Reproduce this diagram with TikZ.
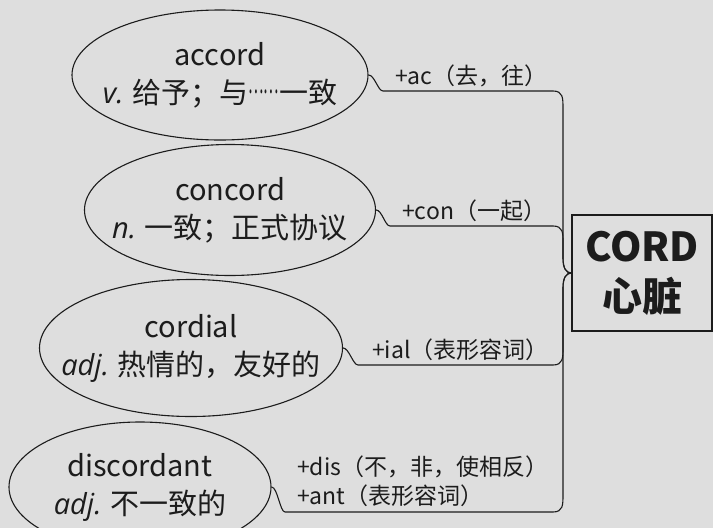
\documentclass[tikz,border=0pt]{standalone}
\usepackage{fontspec}
\setmainfont{Noto Sans CJK SC}
\newfontfamily\posfont{Open Sans}
\usetikzlibrary{shapes.geometric}
\definecolor{paper}{RGB}{222,222,222}
\definecolor{ink}{RGB}{28,28,28}
\newcommand{\pos}[1]{{\posfont\itshape #1}}
% the Chinese ellipsis, narrow and on the middle line
\newcommand{\zhdots}{\raisebox{0.32em}{\scalebox{0.5}[1]{……}}}

\begin{document}
\begin{tikzpicture}[x=1pt, y=-1pt,
    word/.style={draw=ink, ellipse, line width=1.1pt, inner sep=0pt},
    wordtext/.style={align=center, text=ink, font=\fontsize{29}{38}\selectfont},
    affix/.style={anchor=base west, inner sep=0pt, text=ink, font=\fontsize{23}{29}\selectfont},
    link/.style={draw=ink, line width=1.1pt}]

    % Page: grey paper, the lowest ellipse runs off its bottom edge
    \fill[paper] (0,0) rectangle (713,528);
    \clip (0,0) rectangle (713,528);

    % The root word
    \node[draw=ink, line width=1.3pt, minimum width=140pt, minimum height=116pt,
          align=center, text=ink, font=\fontsize{40}{50}\selectfont\bfseries]
        (cord) at (642,273) {CORD\\心脏};

    % The derived words
    \node[word, minimum width=296pt, minimum height=130pt] (acc) at (220,75) {};
    \node[wordtext] (acc-t) at (acc) {accord\\\pos{v.} 给予；与\zhdots 一致};

    \node[word, minimum width=291pt, minimum height=131pt] (con) at (230,210) {};
    \node[wordtext] (con-t) at (con) {concord\\\pos{n.} 一致；正式协议};

    \node[word, minimum width=303pt, minimum height=137pt] (cdl) at (191,348) {};
    \node[wordtext] (cdl-t) at (cdl) {cordial\\\pos{adj.} 热情的，友好的};

    \node[word, minimum width=262pt, minimum height=130pt] (dis) at (140,487) {};
    \node[wordtext] (dis-t) at (dis) {discordant\\\pos{adj.} 不一致的};

    % Branches: a short bend off the ellipse, a rule under the affix,
    % then down (or up) the common stem into the box
    \draw[link] (acc.east) .. controls +(6,0) and +(-5,0) .. (383,91) -- (553,91)
        .. controls (563,91) and (563,98) .. (563,108) -- (563,258)
        .. controls (563,268) and (566,273) .. (cord.west);
    \draw[link] (con.east) .. controls +(6,0) and +(-5,0) .. (390,226) -- (553,226)
        .. controls (563,226) and (563,233) .. (563,242) -- (563,258)
        .. controls (563,268) and (566,273) .. (cord.west);
    \draw[link] (cdl.east) .. controls +(6,0) and +(-5,0) .. (358,365) -- (553,365)
        .. controls (563,365) and (563,358) .. (563,348) -- (563,288)
        .. controls (563,278) and (566,273) .. (cord.west);
    \draw[link] (dis.east) .. controls +(6,0) and +(-5,0) .. (285,512) -- (553,512)
        .. controls (563,512) and (563,505) .. (563,495) -- (563,288)
        .. controls (563,278) and (566,273) .. (cord.west);

    % Affixes
    \node[affix] (acc-a) at (395,84) {+ac（去，往）};
    \node[affix] (con-a) at (402,219) {+con（一起）};
    \node[affix] (cdl-a) at (372,358) {+ial（表形容词）};
    \node[affix] (dis-a) at (297,475) {+dis（不，非，使相反）};
    \node[affix] (dis-b) at (297,504) {+ant（表形容词）};

\end{tikzpicture}
\end{document}
